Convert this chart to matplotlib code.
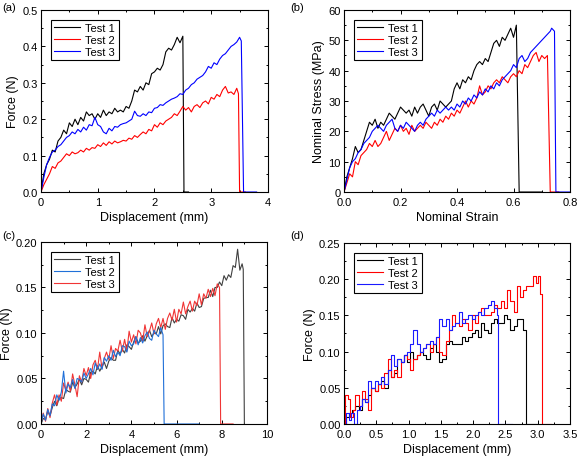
import matplotlib
matplotlib.use("Agg")
import matplotlib.pyplot as plt
from matplotlib.ticker import AutoMinorLocator

plt.rcParams["font.family"] = ["Liberation Sans", "DejaVu Sans"]

# ---------------- (a) force vs displacement ----------------
a1_x = [0.00, 0.05, 0.10, 0.15, 0.20, 0.25, 0.30, 0.35, 0.40, 0.45, 0.50, 0.55, 0.60, 0.65,
        0.70, 0.75, 0.80, 0.85, 0.90, 0.95, 1.00, 1.05, 1.10, 1.15, 1.20, 1.25, 1.30, 1.35,
        1.40, 1.45, 1.50, 1.55, 1.60, 1.65, 1.70, 1.75, 1.80, 1.85, 1.90, 1.95, 2.00, 2.05,
        2.10, 2.15, 2.20, 2.25, 2.30, 2.35, 2.40, 2.45, 2.50, 2.52, 2.60]
a1_y = [0.000, 0.050, 0.075, 0.090, 0.115, 0.110, 0.140, 0.150, 0.170, 0.160, 0.190, 0.180,
        0.200, 0.185, 0.205, 0.195, 0.220, 0.210, 0.215, 0.200, 0.215, 0.205, 0.225, 0.210,
        0.220, 0.215, 0.230, 0.220, 0.225, 0.220, 0.235, 0.230, 0.250, 0.280, 0.275, 0.290,
        0.280, 0.300, 0.295, 0.325, 0.330, 0.340, 0.335, 0.350, 0.385, 0.395, 0.390, 0.405,
        0.425, 0.410, 0.428, 0.000, 0.000]

a2_x = [0.00, 0.05, 0.10, 0.15, 0.20, 0.25, 0.30, 0.35, 0.40, 0.45, 0.50, 0.55, 0.60, 0.65,
        0.70, 0.75, 0.80, 0.85, 0.90, 0.95, 1.00, 1.05, 1.10, 1.15, 1.20, 1.25, 1.30, 1.35,
        1.40, 1.45, 1.50, 1.55, 1.60, 1.65, 1.70, 1.75, 1.80, 1.85, 1.90, 1.95, 2.00, 2.05,
        2.10, 2.15, 2.20, 2.25, 2.30, 2.35, 2.40, 2.45, 2.50, 2.55, 2.60, 2.65, 2.70, 2.75,
        2.80, 2.85, 2.90, 2.95, 3.00, 3.05, 3.10, 3.15, 3.20, 3.25, 3.30, 3.35, 3.40, 3.45,
        3.48, 3.50, 3.60]
a2_y = [0.000, 0.020, 0.035, 0.050, 0.070, 0.065, 0.080, 0.085, 0.095, 0.105, 0.100, 0.110,
        0.105, 0.108, 0.115, 0.110, 0.120, 0.115, 0.122, 0.120, 0.130, 0.125, 0.135, 0.128,
        0.138, 0.132, 0.140, 0.135, 0.138, 0.142, 0.140, 0.148, 0.145, 0.155, 0.150, 0.158,
        0.165, 0.160, 0.172, 0.168, 0.185, 0.178, 0.190, 0.185, 0.195, 0.200, 0.205, 0.215,
        0.210, 0.222, 0.235, 0.225, 0.232, 0.220, 0.235, 0.240, 0.232, 0.245, 0.250, 0.242,
        0.260, 0.255, 0.268, 0.262, 0.280, 0.290, 0.272, 0.275, 0.268, 0.285, 0.270, 0.000,
        0.000]

a3_x = [0.00, 0.05, 0.10, 0.15, 0.20, 0.25, 0.30, 0.35, 0.40, 0.45, 0.50, 0.55, 0.60, 0.65,
        0.70, 0.75, 0.80, 0.85, 0.90, 0.95, 1.00, 1.05, 1.10, 1.15, 1.20, 1.25, 1.30, 1.35,
        1.40, 1.45, 1.50, 1.55, 1.60, 1.65, 1.70, 1.75, 1.80, 1.85, 1.90, 1.95, 2.00, 2.05,
        2.10, 2.15, 2.20, 2.25, 2.30, 2.35, 2.40, 2.45, 2.50, 2.55, 2.60, 2.65, 2.70, 2.75,
        2.80, 2.85, 2.90, 2.95, 3.00, 3.05, 3.10, 3.15, 3.20, 3.25, 3.30, 3.35, 3.40, 3.45,
        3.50, 3.53, 3.57, 3.80]
a3_y = [0.000, 0.040, 0.075, 0.095, 0.110, 0.115, 0.125, 0.130, 0.140, 0.150, 0.155, 0.165,
        0.160, 0.172, 0.165, 0.178, 0.170, 0.185, 0.182, 0.205, 0.185, 0.180, 0.165, 0.160,
        0.175, 0.168, 0.180, 0.178, 0.185, 0.188, 0.190, 0.195, 0.200, 0.222, 0.210, 0.208,
        0.215, 0.210, 0.220, 0.218, 0.230, 0.232, 0.240, 0.238, 0.245, 0.250, 0.255, 0.258,
        0.262, 0.270, 0.268, 0.280, 0.285, 0.295, 0.300, 0.310, 0.315, 0.320, 0.330, 0.345,
        0.340, 0.355, 0.350, 0.365, 0.375, 0.380, 0.390, 0.400, 0.405, 0.412, 0.425, 0.415,
        0.000, 0.000]

# ---------------- (b) nominal stress vs strain ----------------
b1_x = [0.00, 0.01, 0.02, 0.03, 0.04, 0.05, 0.06, 0.07, 0.08, 0.09, 0.10, 0.11, 0.12, 0.13,
        0.14, 0.15, 0.16, 0.17, 0.18, 0.19, 0.20, 0.21, 0.22, 0.23, 0.24, 0.25, 0.26, 0.27,
        0.28, 0.29, 0.30, 0.31, 0.32, 0.33, 0.34, 0.35, 0.36, 0.37, 0.38, 0.39, 0.40, 0.41,
        0.42, 0.43, 0.44, 0.45, 0.46, 0.47, 0.48, 0.49, 0.50, 0.51, 0.52, 0.53, 0.54, 0.55,
        0.56, 0.57, 0.58, 0.59, 0.60, 0.61, 0.62, 0.70]
b1_y = [0, 5, 8, 11, 15, 13, 14, 17, 20, 23, 22, 24, 21, 23, 22, 24, 26, 25, 24, 26, 28, 27,
        26, 27, 25, 28, 26, 28, 29, 27, 25, 28, 29, 27, 30, 29, 28, 29, 30, 34, 36, 34, 37,
        36, 38, 37, 40, 42, 43, 42, 44, 43, 46, 49, 50, 48, 51, 50, 52, 54, 51, 55, 0, 0]

b2_x = [0.00, 0.01, 0.02, 0.03, 0.04, 0.05, 0.06, 0.07, 0.08, 0.09, 0.10, 0.11, 0.12, 0.13,
        0.14, 0.15, 0.16, 0.17, 0.18, 0.19, 0.20, 0.21, 0.22, 0.23, 0.24, 0.25, 0.26, 0.27,
        0.28, 0.29, 0.30, 0.31, 0.32, 0.33, 0.34, 0.35, 0.36, 0.37, 0.38, 0.39, 0.40, 0.41,
        0.42, 0.43, 0.44, 0.45, 0.46, 0.47, 0.48, 0.49, 0.50, 0.51, 0.52, 0.53, 0.54, 0.55,
        0.56, 0.57, 0.58, 0.59, 0.60, 0.61, 0.62, 0.63, 0.64, 0.65, 0.66, 0.67, 0.68, 0.69,
        0.70, 0.71, 0.72, 0.73, 0.76]
b2_y = [0, 3, 6, 5, 10, 9, 12, 13, 14, 16, 15, 17, 15, 16, 18, 20, 17, 19, 21, 20, 22, 20,
        21, 19, 22, 20, 21, 22, 21, 23, 22, 21, 23, 22, 24, 23, 25, 24, 26, 25, 27, 26, 28,
        30, 28, 30, 29, 31, 35, 32, 33, 35, 34, 36, 37, 36, 38, 37, 36, 38, 39, 38, 40, 39,
        42, 41, 43, 45, 46, 43, 45, 44, 45, 0, 0]

b3_x = [0.00, 0.01, 0.02, 0.03, 0.04, 0.05, 0.06, 0.07, 0.08, 0.09, 0.10, 0.11, 0.12, 0.13,
        0.14, 0.15, 0.16, 0.17, 0.18, 0.19, 0.20, 0.21, 0.22, 0.23, 0.24, 0.25, 0.26, 0.27,
        0.28, 0.29, 0.30, 0.31, 0.32, 0.33, 0.34, 0.35, 0.36, 0.37, 0.38, 0.39, 0.40, 0.41,
        0.42, 0.43, 0.44, 0.45, 0.46, 0.47, 0.48, 0.49, 0.50, 0.51, 0.52, 0.53, 0.54, 0.55,
        0.56, 0.57, 0.58, 0.59, 0.60, 0.61, 0.62, 0.63, 0.64, 0.65, 0.66, 0.67, 0.68, 0.69,
        0.70, 0.71, 0.72, 0.73, 0.735, 0.745, 0.75, 0.80]
b3_y = [0, 4, 8, 10, 11, 13, 14, 16, 17, 18, 20, 21, 22, 21, 20, 22, 23, 24, 21, 20, 22, 21,
        23, 22, 21, 20, 22, 23, 22, 24, 25, 26, 25, 27, 26, 27, 28, 27, 28, 27, 29, 28, 30,
        29, 31, 30, 32, 31, 33, 32, 34, 33, 35, 34, 36, 35, 37, 38, 39, 40, 42, 41, 44, 45,
        43, 44, 46, 47, 48, 49, 50, 51, 52, 53, 54, 53, 0, 0]

# ---------------- (c) force vs displacement ----------------
c1_x = [0.0, 0.1, 0.2, 0.3, 0.4, 0.5, 0.6, 0.7, 0.8, 0.9, 1.0, 1.1, 1.2, 1.3, 1.4, 1.5, 1.6,
        1.7, 1.8, 1.9, 2.0, 2.1, 2.2, 2.3, 2.4, 2.5, 2.6, 2.7, 2.8, 2.9, 3.0, 3.1, 3.2, 3.3,
        3.4, 3.5, 3.6, 3.7, 3.8, 3.9, 4.0, 4.1, 4.2, 4.3, 4.4, 4.5, 4.6, 4.7, 4.8, 4.9, 5.0,
        5.1, 5.2, 5.3, 5.4, 5.5, 5.6, 5.7, 5.8, 5.9, 6.0, 6.1, 6.2, 6.3, 6.4, 6.5, 6.6, 6.7,
        6.8, 6.9, 7.0, 7.1, 7.2, 7.3, 7.4, 7.5, 7.6, 7.7, 7.8, 7.9, 8.0, 8.1, 8.2, 8.3, 8.4,
        8.5, 8.6, 8.7, 8.8, 8.9, 8.95, 9.0]
c1_y = [0.000, 0.006, 0.005, 0.014, 0.009, 0.018, 0.025, 0.020, 0.028, 0.029, 0.028, 0.038,
        0.036, 0.035, 0.046, 0.040, 0.044, 0.049, 0.043, 0.050, 0.049, 0.046, 0.057, 0.058,
        0.055, 0.064, 0.058, 0.063, 0.068, 0.061, 0.069, 0.073, 0.070, 0.070, 0.081, 0.077,
        0.082, 0.078, 0.087, 0.085, 0.082, 0.090, 0.096, 0.089, 0.091, 0.097, 0.091, 0.097,
        0.103, 0.096, 0.100, 0.099, 0.107, 0.099, 0.108, 0.110, 0.107, 0.106, 0.117, 0.111,
        0.115, 0.113, 0.120, 0.119, 0.115, 0.126, 0.123, 0.127, 0.124, 0.133, 0.128, 0.129,
        0.138, 0.139, 0.139, 0.147, 0.140, 0.150, 0.150, 0.156, 0.152, 0.163, 0.158, 0.164,
        0.161, 0.174, 0.172, 0.192, 0.169, 0.176, 0.170, 0.000]

c2_x = [0.0, 0.1, 0.2, 0.3, 0.4, 0.5, 0.6, 0.7, 0.8, 0.9, 1.0, 1.1, 1.2, 1.3, 1.4, 1.5, 1.6,
        1.7, 1.8, 1.9, 2.0, 2.1, 2.2, 2.3, 2.4, 2.5, 2.6, 2.7, 2.8, 2.9, 3.0, 3.1, 3.2, 3.3,
        3.4, 3.5, 3.6, 3.7, 3.8, 3.9, 4.0, 4.1, 4.2, 4.3, 4.4, 4.5, 4.6, 4.7, 4.8, 4.9, 5.0,
        5.1, 5.2, 5.3, 5.4, 5.45, 7.0]
c2_y = [0.000, 0.011, 0.004, 0.016, 0.009, 0.022, 0.020, 0.032, 0.026, 0.035, 0.058, 0.034,
        0.044, 0.040, 0.049, 0.039, 0.050, 0.049, 0.046, 0.056, 0.050, 0.055, 0.061, 0.054,
        0.067, 0.060, 0.066, 0.060, 0.073, 0.069, 0.075, 0.070, 0.081, 0.074, 0.079, 0.075,
        0.086, 0.085, 0.079, 0.091, 0.086, 0.088, 0.096, 0.087, 0.095, 0.089, 0.097, 0.101,
        0.094, 0.092, 0.103, 0.099, 0.096, 0.106, 0.098, 0.000, 0.000]

c3_x = [0.0, 0.1, 0.2, 0.3, 0.4, 0.5, 0.6, 0.7, 0.8, 0.9, 1.0, 1.1, 1.2, 1.3, 1.4, 1.5, 1.6,
        1.7, 1.8, 1.9, 2.0, 2.1, 2.2, 2.3, 2.4, 2.5, 2.6, 2.7, 2.8, 2.9, 3.0, 3.1, 3.2, 3.3,
        3.4, 3.5, 3.6, 3.7, 3.8, 3.9, 4.0, 4.1, 4.2, 4.3, 4.4, 4.5, 4.6, 4.7, 4.8, 4.9, 5.0,
        5.1, 5.2, 5.3, 5.4, 5.5, 5.6, 5.7, 5.8, 5.9, 6.0, 6.1, 6.2, 6.3, 6.4, 6.5, 6.6, 6.7,
        6.8, 6.9, 7.0, 7.1, 7.2, 7.3, 7.4, 7.5, 7.6, 7.7, 7.8, 7.9, 7.95, 8.5]
c3_y = [0.000, 0.012, 0.003, 0.017, 0.007, 0.023, 0.032, 0.021, 0.032, 0.025, 0.045, 0.037,
        0.046, 0.036, 0.055, 0.043, 0.030, 0.053, 0.046, 0.061, 0.053, 0.062, 0.050, 0.065,
        0.070, 0.060, 0.079, 0.061, 0.072, 0.079, 0.071, 0.086, 0.072, 0.083, 0.080, 0.092,
        0.080, 0.093, 0.080, 0.102, 0.090, 0.098, 0.088, 0.103, 0.100, 0.091, 0.109, 0.096,
        0.102, 0.111, 0.099, 0.110, 0.116, 0.106, 0.116, 0.104, 0.116, 0.122, 0.114, 0.126,
        0.112, 0.126, 0.121, 0.134, 0.121, 0.129, 0.135, 0.124, 0.135, 0.130, 0.143, 0.131,
        0.143, 0.138, 0.148, 0.140, 0.149, 0.141, 0.154, 0.150, 0.000, 0.000]

# ---------------- (d) force vs displacement ----------------
d1_x = [0.00, 0.05, 0.10, 0.15, 0.20, 0.25, 0.30, 0.35, 0.40, 0.45, 0.50, 0.55, 0.60, 0.65,
        0.70, 0.75, 0.80, 0.85, 0.90, 0.95, 1.00, 1.05, 1.10, 1.15, 1.20, 1.25, 1.30, 1.35,
        1.40, 1.45, 1.50, 1.55, 1.60, 1.65, 1.70, 1.75, 1.80, 1.85, 1.90, 1.95, 2.00, 2.05,
        2.10, 2.15, 2.20, 2.25, 2.30, 2.35, 2.40, 2.45, 2.50, 2.55, 2.60, 2.65, 2.70, 2.75,
        2.78, 2.85, 3.00]
d1_y = [0.000, 0.010, 0.015, 0.020, 0.025, 0.020, 0.035, 0.030, 0.040, 0.050, 0.045, 0.055,
        0.060, 0.050, 0.075, 0.065, 0.070, 0.090, 0.085, 0.095, 0.085, 0.100, 0.090, 0.095,
        0.100, 0.095, 0.090, 0.105, 0.110, 0.100, 0.085, 0.090, 0.110, 0.115, 0.110, 0.110,
        0.110, 0.120, 0.115, 0.120, 0.125, 0.130, 0.120, 0.140, 0.130, 0.125, 0.140, 0.145,
        0.140, 0.140, 0.150, 0.145, 0.130, 0.135, 0.145, 0.145, 0.130, 0.000, 0.000]

d2_x = [0.00, 0.03, 0.08, 0.12, 0.15, 0.20, 0.25, 0.30, 0.35, 0.40, 0.45, 0.50, 0.55, 0.60,
        0.65, 0.70, 0.75, 0.80, 0.85, 0.90, 0.95, 1.00, 1.05, 1.10, 1.15, 1.20, 1.25, 1.30,
        1.35, 1.40, 1.45, 1.50, 1.55, 1.60, 1.65, 1.70, 1.75, 1.80, 1.85, 1.90, 1.95, 2.00,
        2.05, 2.10, 2.15, 2.20, 2.25, 2.30, 2.35, 2.40, 2.45, 2.50, 2.55, 2.60, 2.65, 2.70,
        2.75, 2.80, 2.85, 2.90, 2.95, 3.00, 3.02, 3.05, 3.07, 3.20]
d2_y = [0.000, 0.040, 0.035, 0.010, 0.020, 0.040, 0.025, 0.045, 0.035, 0.020, 0.050, 0.045,
        0.055, 0.050, 0.070, 0.090, 0.065, 0.075, 0.065, 0.085, 0.095, 0.090, 0.075, 0.090,
        0.095, 0.100, 0.105, 0.110, 0.100, 0.110, 0.120, 0.100, 0.095, 0.115, 0.130, 0.150,
        0.140, 0.135, 0.145, 0.140, 0.130, 0.150, 0.140, 0.155, 0.160, 0.150, 0.150, 0.155,
        0.165, 0.160, 0.170, 0.160, 0.185, 0.170, 0.155, 0.190, 0.175, 0.185, 0.190, 0.190,
        0.205, 0.195, 0.205, 0.180, 0.000, 0.000]

d3_x = [0.00, 0.05, 0.10, 0.13, 0.17, 0.22, 0.26, 0.30, 0.35, 0.40, 0.45, 0.50, 0.55, 0.60,
        0.65, 0.70, 0.75, 0.80, 0.85, 0.90, 0.95, 1.00, 1.05, 1.10, 1.15, 1.20, 1.25, 1.30,
        1.35, 1.40, 1.45, 1.50, 1.55, 1.60, 1.65, 1.70, 1.75, 1.80, 1.85, 1.90, 1.95, 2.00,
        2.05, 2.10, 2.15, 2.20, 2.25, 2.30, 2.35, 2.38, 2.40, 2.60]
d3_y = [0.000, 0.015, 0.005, 0.015, 0.000, 0.020, 0.025, 0.035, 0.030, 0.060, 0.050, 0.060,
        0.055, 0.065, 0.055, 0.075, 0.095, 0.080, 0.090, 0.085, 0.095, 0.100, 0.110, 0.130,
        0.110, 0.100, 0.105, 0.110, 0.115, 0.110, 0.120, 0.145, 0.135, 0.145, 0.130, 0.135,
        0.140, 0.155, 0.140, 0.145, 0.150, 0.145, 0.150, 0.155, 0.150, 0.160, 0.165, 0.170,
        0.160, 0.150, 0.000, 0.000]

labels = ["Test 1", "Test 2", "Test 3"]

fig = plt.figure(figsize=(5.78, 4.60), dpi=100)
ax_a = fig.add_axes([0.0709, 0.5804, 0.3927, 0.3957])
ax_b = fig.add_axes([0.5952, 0.5804, 0.3910, 0.3957])
ax_c = fig.add_axes([0.0709, 0.0761, 0.3910, 0.3957])
ax_d = fig.add_axes([0.5952, 0.0761, 0.3910, 0.3935])

LW = 0.8


def style(ax, xlim, ylim, xticks, yticks, xlabel, ylabel, xfmt, yfmt):
    ax.set_xlim(*xlim)
    ax.set_ylim(*ylim)
    ax.set_xticks(xticks)
    ax.set_yticks(yticks)
    ax.set_xticklabels([xfmt.format(v) for v in xticks])
    ax.set_yticklabels([yfmt.format(v) for v in yticks])
    ax.xaxis.set_minor_locator(AutoMinorLocator(2))
    ax.yaxis.set_minor_locator(AutoMinorLocator(2))
    ax.tick_params(which="both", direction="in", top=True, right=True,
                   labelsize=8, width=0.7)
    ax.tick_params(axis="x", pad=3.5)
    ax.tick_params(axis="y", pad=2.5)
    ax.tick_params(which="major", length=3)
    ax.tick_params(which="minor", length=1.7)
    for s in ax.spines.values():
        s.set_linewidth(0.8)
    ax.set_xlabel(xlabel, fontsize=9, labelpad=3)
    ax.set_ylabel(ylabel, fontsize=9, labelpad=2)
    leg = ax.legend(loc="upper left", fontsize=8, fancybox=False, framealpha=1,
                    edgecolor="black", handlelength=2.3, handletextpad=0.5,
                    labelspacing=0.15, borderpad=0.3, borderaxespad=0.9)
    leg.get_frame().set_linewidth(0.8)


# (a)
for x, y, c, lab in zip([a1_x, a2_x, a3_x], [a1_y, a2_y, a3_y],
                        ["black", "red", "blue"], labels):
    ax_a.plot(x, y, color=c, lw=LW, label=lab)
style(ax_a, (0, 4), (0, 0.5), [0, 1, 2, 3, 4], [0, 0.1, 0.2, 0.3, 0.4, 0.5],
      "Displacement (mm)", "Force (N)", "{:g}", "{:.1f}")

# (b)
for x, y, c, lab in zip([b1_x, b2_x, b3_x], [b1_y, b2_y, b3_y],
                        ["black", "red", "blue"], labels):
    ax_b.plot(x, y, color=c, lw=LW, label=lab)
style(ax_b, (0, 0.8), (0, 60), [0, 0.2, 0.4, 0.6, 0.8], [0, 10, 20, 30, 40, 50, 60],
      "Nominal Strain", "Nominal Stress (MPa)", "{:.1f}", "{:g}")

# (c)
for x, y, c, lab, z in zip([c1_x, c2_x, c3_x], [c1_y, c2_y, c3_y],
                           ["#404040", "#2070d8", "#f03535"], labels, [2.0, 2.2, 2.1]):
    ax_c.plot(x, y, color=c, lw=LW, label=lab, zorder=z)
style(ax_c, (0, 10), (0, 0.20), [0, 2, 4, 6, 8, 10], [0, 0.05, 0.10, 0.15, 0.20],
      "Displacement (mm)", "Force (N)", "{:g}", "{:.2f}")

# (d)
for x, y, c, lab in zip([d1_x, d2_x, d3_x], [d1_y, d2_y, d3_y],
                        ["black", "red", "#1a1aff"], labels):
    ax_d.plot(x, y, color=c, lw=LW, label=lab, drawstyle="steps-mid")
style(ax_d, (0, 3.5), (0, 0.25), [0, 0.5, 1.0, 1.5, 2.0, 2.5, 3.0, 3.5],
      [0, 0.05, 0.10, 0.15, 0.20, 0.25],
      "Displacement (mm)", "Force (N)", "{:.1f}", "{:.2f}")

for lab, (px, py) in zip(["(a)", "(b)", "(c)", "(d)"],
                         [(2, 8), (290, 8), (2, 236), (290, 236)]):
    fig.text(px / 578, 1 - py / 460, lab, fontsize=8, ha="left", va="center")

fig.savefig("out.png", dpi=100)
